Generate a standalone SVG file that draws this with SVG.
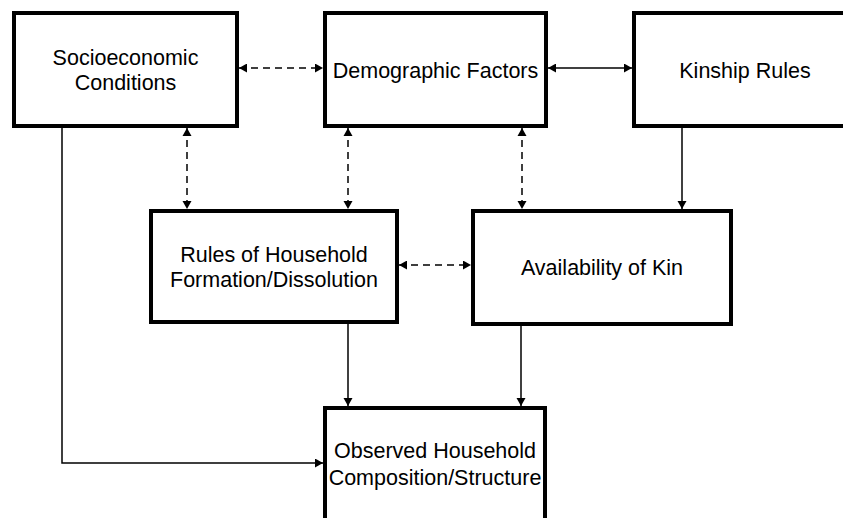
<svg xmlns="http://www.w3.org/2000/svg" width="843" height="518" viewBox="0 0 843 518">
<defs>
<style>
.box{fill:#fff;stroke:#000;stroke-width:4}
.t{font-family:"Liberation Sans",Arial,sans-serif;font-size:21.5px;fill:#000;text-anchor:middle}
.c{fill:none;stroke:#000;stroke-width:1.5}
.d{stroke-dasharray:7 5}
</style>
<marker id="ae" markerUnits="userSpaceOnUse" markerWidth="10" markerHeight="10" refX="8" refY="4.5" orient="auto"><path d="M0,0 L8,4.5 L0,9 Z" fill="#000"/></marker>
<marker id="as" markerUnits="userSpaceOnUse" markerWidth="10" markerHeight="10" refX="0" refY="4.5" orient="auto"><path d="M8,0 L0,4.5 L8,9 Z" fill="#000"/></marker>
</defs>
<rect width="843" height="518" fill="#fff"/>
<g id="connectors">
<line class="c d" x1="239" y1="68" x2="323" y2="68" marker-start="url(#as)" marker-end="url(#ae)"/>
<line class="c" x1="548" y1="68" x2="632" y2="68" marker-start="url(#as)" marker-end="url(#ae)"/>
<line class="c d" x1="187" y1="128" x2="187" y2="209" marker-start="url(#as)" marker-end="url(#ae)"/>
<line class="c d" x1="348" y1="128" x2="348" y2="209" marker-start="url(#as)" marker-end="url(#ae)"/>
<line class="c d" x1="522" y1="128" x2="522" y2="209" marker-start="url(#as)" marker-end="url(#ae)"/>
<line class="c" x1="682" y1="128" x2="682" y2="209" marker-end="url(#ae)"/>
<line class="c d" x1="399" y1="265" x2="471" y2="265" marker-start="url(#as)" marker-end="url(#ae)"/>
<line class="c" x1="348" y1="324" x2="348" y2="406" marker-end="url(#ae)"/>
<line class="c" x1="521" y1="326" x2="521" y2="406" marker-end="url(#ae)"/>
<polyline class="c" points="62,128 62,463 323,463" marker-end="url(#ae)"/>
</g>
<g id="socioeconomic">
<rect class="box" x="14" y="13" width="223" height="113"/>
<text class="t" x="125.5" y="65">Socioeconomic</text>
<text class="t" x="125.5" y="90">Conditions</text>
</g>
<g id="demographic">
<rect class="box" x="325" y="13" width="221" height="113"/>
<text class="t" x="435.5" y="78">Demographic Factors</text>
</g>
<g id="kinship">
<rect class="box" x="634" y="13" width="222" height="113"/>
<text class="t" x="745" y="78">Kinship Rules</text>
</g>
<g id="rules">
<rect class="box" x="151" y="211" width="246" height="111"/>
<text class="t" x="274" y="262">Rules of Household</text>
<text class="t" x="274" y="287">Formation/Dissolution</text>
</g>
<g id="availability">
<rect class="box" x="473" y="211" width="258" height="113"/>
<text class="t" x="602" y="275">Availability of Kin</text>
</g>
<g id="observed">
<rect class="box" x="325" y="408" width="220" height="130"/>
<text class="t" x="435" y="458">Observed Household</text>
<text class="t" x="435" y="485">Composition/Structure</text>
</g>
</svg>
